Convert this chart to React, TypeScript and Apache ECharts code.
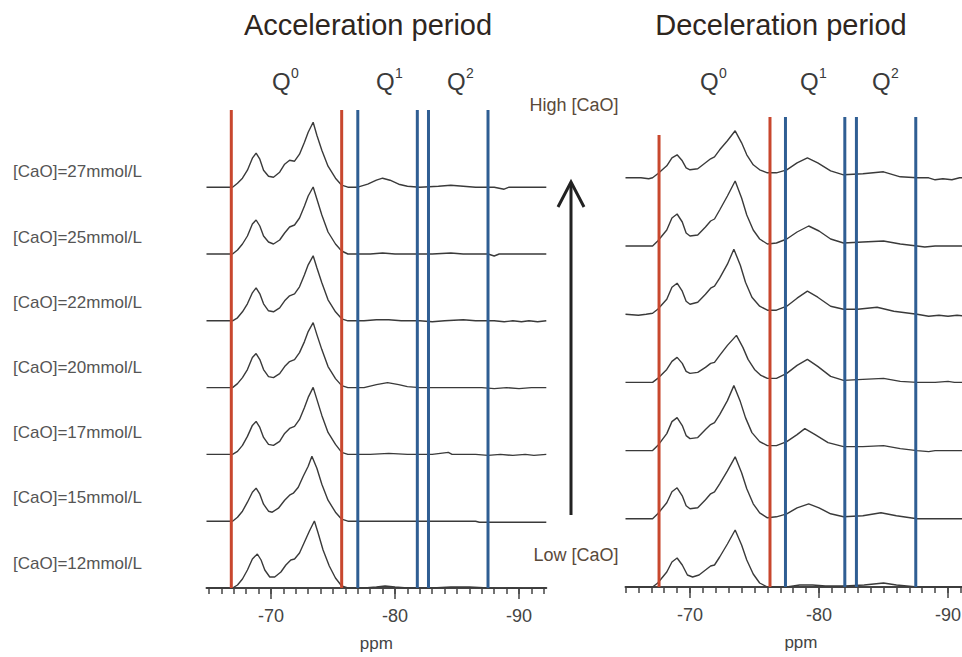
import React, { useEffect, useRef } from "react";
import * as echarts from "echarts";

// ---------- data (ppm, intensity above each trace's baseline) ----------
const CONCENTRATIONS = [12, 15, 17, 20, 22, 25, 27]; // bottom -> top

const ACC_12 = [[-64.8,0],[-66.0,0],[-66.9,0],[-67.3,3],[-67.7,9],[-68.1,18],[-68.5,29],[-68.9,34],[-69.2,28],[-69.5,18],[-69.9,11],[-70.3,11],[-70.8,16],[-71.2,23],[-71.6,28],[-71.9,29],[-72.3,35],[-72.7,46],[-73.1,57],[-73.5,67],[-73.8,55],[-74.2,38],[-74.7,22],[-75.2,10],[-75.7,2],[-76.2,0],[-77.5,0],[-78.5,1],[-79.2,2],[-80.0,1],[-81.0,0],[-83.0,0],[-84.5,1],[-86.0,1],[-87.5,0],[-88.5,-1],[-89.5,0],[-90.5,-1],[-92.2,0]];
const ACC_15 = [[-64.8,0],[-66.0,0],[-66.9,0],[-67.3,4],[-67.7,10],[-68.1,19],[-68.5,29],[-68.8,33],[-69.1,27],[-69.4,17],[-69.8,10],[-70.1,9],[-70.6,13],[-71.1,21],[-71.5,26],[-71.8,28],[-72.2,34],[-72.6,45],[-73.0,55],[-73.3,65],[-73.7,53],[-74.1,37],[-74.6,21],[-75.2,9],[-75.7,2],[-76.2,0],[-78.0,0],[-79.5,0],[-81.0,0],[-82.5,0],[-84.0,0],[-86.5,0],[-86.8,-1],[-92.2,-1]];
const ACC_17 = [[-64.8,0],[-66.0,0],[-66.9,0],[-67.3,3],[-67.7,9],[-68.1,18],[-68.5,29],[-68.8,33],[-69.1,27],[-69.4,17],[-69.8,10],[-70.2,9],[-70.7,13],[-71.1,21],[-71.5,26],[-71.9,28],[-72.3,35],[-72.7,47],[-73.0,57],[-73.4,67],[-73.7,55],[-74.1,39],[-74.6,22],[-75.2,10],[-75.7,2],[-76.2,0],[-78.0,0],[-79.5,1],[-81.0,0],[-83.0,0],[-84.3,2],[-84.6,0],[-86.5,0],[-87.5,-1],[-88.5,0],[-89.5,-1],[-90.5,0],[-91.2,-1],[-92.2,0]];
const ACC_20 = [[-64.8,0],[-66.0,0],[-66.9,0],[-67.3,4],[-67.7,10],[-68.1,18],[-68.5,30],[-68.8,34],[-69.1,28],[-69.4,18],[-69.8,11],[-70.2,10],[-70.7,14],[-71.1,21],[-71.5,26],[-71.9,28],[-72.3,35],[-72.7,46],[-73.0,56],[-73.4,65],[-73.7,53],[-74.1,38],[-74.6,21],[-75.2,9],[-75.7,2],[-76.2,0],[-77.5,0],[-78.5,3],[-79.4,5],[-80.3,3],[-81.0,1],[-82.0,0],[-84.0,0],[-85.5,0],[-87.0,0],[-88.0,-1],[-89.0,0],[-90.0,-1],[-91.0,0],[-92.2,0]];
const ACC_22 = [[-64.8,0],[-66.0,0],[-66.9,0],[-67.3,3],[-67.7,9],[-68.1,17],[-68.5,28],[-68.8,33],[-69.1,27],[-69.4,17],[-69.8,10],[-70.2,9],[-70.7,13],[-71.1,20],[-71.5,25],[-71.9,27],[-72.3,34],[-72.7,46],[-73.0,56],[-73.4,65],[-73.7,53],[-74.1,38],[-74.6,21],[-75.2,9],[-75.7,2],[-76.2,0],[-77.5,0],[-78.5,1],[-79.5,1],[-80.5,0],[-82.0,0],[-83.0,-1],[-84.0,0],[-85.5,1],[-86.5,0],[-88.0,0],[-88.8,-1],[-89.5,0],[-90.2,-1],[-90.8,0],[-91.5,-1],[-92.2,0]];
const ACC_25 = [[-64.8,0],[-66.0,0],[-66.9,0],[-67.3,4],[-67.7,10],[-68.1,18],[-68.5,30],[-68.8,34],[-69.1,28],[-69.4,18],[-69.8,12],[-70.2,10],[-70.7,14],[-71.1,21],[-71.5,27],[-71.9,29],[-72.3,36],[-72.7,48],[-73.0,58],[-73.4,67],[-73.7,55],[-74.1,39],[-74.6,22],[-75.2,10],[-75.7,3],[-76.2,0],[-78.0,0],[-79.0,1],[-80.0,0],[-83.0,0],[-84.5,1],[-85.5,0],[-87.5,0],[-88.0,-2],[-88.4,0],[-92.2,0]];
const ACC_27 = [[-64.8,0],[-66.0,0],[-66.9,0],[-67.3,4],[-67.7,9],[-68.1,17],[-68.5,29],[-68.8,34],[-69.1,28],[-69.4,17],[-69.8,11],[-70.2,10],[-70.7,15],[-71.1,23],[-71.5,27],[-71.9,26],[-72.3,33],[-72.7,45],[-73.0,55],[-73.4,65],[-73.7,52],[-74.1,37],[-74.6,21],[-75.2,9],[-75.7,2],[-76.2,0],[-77.0,0],[-77.8,3],[-78.5,7],[-79.0,9],[-79.6,7],[-80.3,3],[-81.0,1],[-82.0,0],[-83.5,1],[-84.5,2],[-85.5,1],[-86.5,0],[-88.0,0],[-88.8,-2],[-89.2,0],[-92.2,0]];

const DEC_12 = [[-65.0,0],[-66.5,0],[-67.1,0],[-67.5,4],[-68.2,15],[-68.6,25],[-69.0,29],[-69.4,22],[-69.8,12],[-70.2,10],[-70.7,12],[-71.2,17],[-71.6,21],[-71.9,22],[-72.3,30],[-72.9,43],[-73.5,57],[-74.0,42],[-74.4,27],[-74.9,13],[-75.4,4],[-76.0,0],[-77.5,0],[-78.5,2],[-79.5,2],[-80.5,1],[-82.0,1],[-83.5,2],[-85.0,4],[-86.0,2],[-87.6,0],[-92.2,0]];
const DEC_15 = [[-65.0,0],[-66.5,0],[-67.1,0],[-67.5,5],[-68.2,16],[-68.6,27],[-69.0,31],[-69.4,23],[-69.7,13],[-70.0,10],[-70.6,11],[-71.2,19],[-71.6,25],[-71.9,27],[-72.3,35],[-72.9,48],[-73.5,62],[-74.0,46],[-74.4,30],[-74.9,15],[-75.4,6],[-76.0,1],[-76.7,2],[-77.5,5],[-78.3,11],[-79.2,15],[-80.0,11],[-80.9,5],[-81.9,2],[-83.4,3],[-84.8,6],[-86.0,3],[-87.6,0],[-92.2,0]];
const DEC_17 = [[-65.0,0],[-66.5,0],[-67.1,0],[-67.5,5],[-68.2,17],[-68.6,29],[-69.0,33],[-69.4,25],[-69.7,15],[-70.0,12],[-70.6,13],[-71.2,21],[-71.6,26],[-71.9,28],[-72.3,36],[-72.9,50],[-73.4,65],[-73.9,49],[-74.3,33],[-74.8,18],[-75.4,9],[-76.0,5],[-76.7,5],[-77.5,9],[-78.3,16],[-78.9,22],[-79.7,16],[-80.7,8],[-81.9,4],[-83.4,4],[-85.0,5],[-86.3,2],[-87.6,0],[-88.5,-1],[-89.0,0],[-92.2,0]];
const DEC_20 = [[-65.0,0],[-66.5,0],[-67.1,0],[-67.5,4],[-68.2,13],[-68.6,21],[-69.0,25],[-69.4,19],[-69.7,11],[-70.0,9],[-70.6,10],[-71.2,15],[-71.6,19],[-71.9,20],[-72.3,27],[-72.9,37],[-73.6,47],[-74.1,35],[-74.5,23],[-75.0,13],[-75.5,7],[-76.0,4],[-76.7,4],[-77.5,9],[-78.3,17],[-79.1,23],[-79.9,16],[-80.9,6],[-81.9,2],[-83.4,3],[-85.0,4],[-86.3,1],[-87.6,0],[-89.0,0],[-90.0,1],[-90.5,0],[-92.2,0]];
const DEC_22 = [[-65.0,0],[-66.0,-1],[-66.6,0],[-67.1,1],[-67.5,5],[-68.2,15],[-68.6,27],[-69.0,31],[-69.4,23],[-69.7,13],[-70.0,10],[-70.6,12],[-71.2,20],[-71.6,26],[-71.9,28],[-72.3,36],[-72.9,50],[-73.4,65],[-73.9,49],[-74.3,32],[-74.8,17],[-75.4,8],[-76.0,4],[-76.7,4],[-77.5,8],[-78.3,16],[-79.1,23],[-79.9,17],[-80.9,8],[-81.9,5],[-83.0,5],[-84.5,7],[-85.8,3],[-87.0,1],[-87.6,0],[-88.5,-2],[-89.3,-1],[-90.0,-2],[-90.7,-1],[-91.5,-2],[-92.2,-1]];
const DEC_25 = [[-65.0,0],[-66.5,0],[-67.1,0],[-67.5,5],[-68.2,16],[-68.6,28],[-69.0,32],[-69.4,24],[-69.7,13],[-70.0,10],[-70.6,11],[-71.2,19],[-71.6,25],[-71.9,27],[-72.3,36],[-72.9,50],[-73.5,65],[-74.0,48],[-74.4,31],[-74.9,16],[-75.4,7],[-76.0,2],[-76.7,3],[-77.5,7],[-78.3,14],[-79.2,20],[-80.0,15],[-80.9,7],[-81.9,3],[-83.4,4],[-85.0,5],[-86.3,2],[-87.6,0],[-88.2,-1],[-89.0,0],[-92.2,0]];
const DEC_27 = [[-65.0,0],[-66.2,0],[-66.8,-1],[-67.1,0],[-67.5,4],[-68.2,12],[-68.6,20],[-69.0,23],[-69.4,17],[-69.7,10],[-70.0,8],[-70.6,9],[-71.2,15],[-71.6,19],[-71.9,21],[-72.3,28],[-72.9,37],[-73.5,47],[-74.0,35],[-74.4,23],[-74.9,13],[-75.4,8],[-76.0,5],[-76.7,5],[-77.5,8],[-78.3,15],[-79.1,20],[-79.9,15],[-80.9,7],[-81.9,3],[-83.4,4],[-85.0,6],[-86.3,1],[-87.6,0],[-88.5,0],[-89.0,-2],[-89.6,-1],[-90.3,-2],[-90.9,0],[-92.2,0]];

const ACC_TRACES = [ACC_12, ACC_15, ACC_17, ACC_20, ACC_22, ACC_25, ACC_27];
const DEC_TRACES = [DEC_12, DEC_15, DEC_17, DEC_20, DEC_22, DEC_25, DEC_27];

// reference lines (ppm)
const ACC_RED = [-66.8, -75.7];
const ACC_BLUE = [-77.0, -81.8, -82.7, -87.5];
const DEC_RED = [-67.6, -76.2];
const DEC_BLUE = [-77.4, -82.0, -82.9, -87.5];

// axis ticks
const TICK_LABELS = [-70, -80, -90];
const MINOR_TICKS = [-65,-66,-67,-68,-69,-70,-71,-72,-73,-74,-75,-76,-77,-78,-79,-80,-81,-82,-83,-84,-85,-86,-87,-88,-89,-90,-91,-92];

const Q_LABELS = ["0", "1", "2"];

const FONT = '"Liberation Sans", Arial, Helvetica, sans-serif';
const RED = "#c8472e";
const BLUE = "#2f5e93";
const TRACE_COLOR = "#3a3a3a";

export default function App() {
  const ref = useRef<HTMLDivElement>(null);

  useEffect(() => {
    document.body.style.margin = "0";
    if (!ref.current) return;
    const chart = echarts.init(ref.current, null, { renderer: "svg" });

    const panels = [
      { traces: ACC_TRACES, red: ACC_RED, blue: ACC_BLUE, gap: 66.8, xi: 0, yi: 0, lineTopRed: [478, 478], lineTopBlue: 478 },
      { traces: DEC_TRACES, red: DEC_RED, blue: DEC_BLUE, gap: 68.2, xi: 2, yi: 1, lineTopRed: [452, 470], lineTopBlue: 470 },
    ];

    const series: any[] = [];
    panels.forEach((p) => {
      p.traces.forEach((tr, i) => {
        series.push({
          type: "line",
          name: `[CaO]=${CONCENTRATIONS[i]}mmol/L`,
          xAxisIndex: p.xi,
          yAxisIndex: p.yi,
          data: tr.map(([x, h]) => [x, h + i * p.gap]),
          symbol: "none",
          lineStyle: { color: TRACE_COLOR, width: 1.4 },
          silent: true,
          z: 2,
        });
      });
      p.red.forEach((v, k) => {
        series.push({
          type: "line",
          xAxisIndex: p.xi,
          yAxisIndex: p.yi,
          data: [[v, 0], [v, p.lineTopRed[k]]],
          symbol: "none",
          lineStyle: { color: RED, width: 3 },
          silent: true,
          z: 3,
        });
      });
      p.blue.forEach((v) => {
        series.push({
          type: "line",
          xAxisIndex: p.xi,
          yAxisIndex: p.yi,
          data: [[v, 0], [v, p.lineTopBlue]],
          symbol: "none",
          lineStyle: { color: BLUE, width: 3 },
          silent: true,
          z: 3,
        });
      });
    });

    const mainAxis = (gridIndex: number, min: number, max: number) => ({
      type: "value",
      gridIndex,
      position: "bottom",
      min,
      max,
      inverse: true,
      axisLine: { show: true, lineStyle: { color: "#444", width: 2 } },
      axisTick: { show: true, customValues: MINOR_TICKS, length: 6, lineStyle: { color: "#444", width: 1.5 } },
      axisLabel: { customValues: TICK_LABELS, margin: 19, fontSize: 18, color: "#444", fontFamily: FONT },
      splitLine: { show: false },
      name: "ppm",
      nameLocation: "middle",
      nameGap: 47,
      nameTextStyle: { fontSize: 17, color: "#444", fontFamily: FONT },
    });
    const majorAxis = (gridIndex: number, min: number, max: number) => ({
      type: "value",
      gridIndex,
      position: "bottom",
      offset: 0,
      min,
      max,
      inverse: true,
      axisLine: { show: false },
      axisTick: { show: true, customValues: TICK_LABELS, length: 11, lineStyle: { color: "#444", width: 1.5 } },
      axisLabel: { show: false },
      splitLine: { show: false },
    });

    const graphic: any[] = [];
    const txt = (text: string, x: number, y: number, size: number, fill: string, align = "left") => ({
      type: "text",
      x,
      y,
      silent: true,
      style: { text, fontSize: size, fontFamily: FONT, fill, align, verticalAlign: "middle" },
    });

    graphic.push(txt("Acceleration period", 368, 25, 29, "#2e261e", "center"));
    graphic.push(txt("Deceleration period", 781, 25, 29, "#2e261e", "center"));

    const qLeft = [[272, 376, 447], [700, 800, 872]];
    qLeft.forEach((xs) => {
      xs.forEach((x, k) => {
        graphic.push(txt("Q", x, 81, 24, "#3a3a3a"));
        graphic.push(txt(Q_LABELS[k], x + 19, 73, 14, "#3a3a3a"));
      });
    });

    CONCENTRATIONS.forEach((c, i) => {
      graphic.push(txt(`[CaO]=${c}mmol/L`, 13, 563 - i * 65.2, 17, "#555"));
    });

    graphic.push(txt("High [CaO]", 574, 105, 18, "#5a4a3a", "center"));
    graphic.push(txt("Low [CaO]", 576, 555, 18, "#5a4a3a", "center"));
    graphic.push({
      type: "line",
      silent: true,
      shape: { x1: 571, y1: 183, x2: 571, y2: 515 },
      style: { stroke: "#222", lineWidth: 3 },
    });
    graphic.push({
      type: "polyline",
      silent: true,
      shape: { points: [[558, 207], [571, 182], [584, 207]] },
      style: { stroke: "#222", lineWidth: 3, fill: "none" },
    });

    chart.setOption({
      animation: false,
      backgroundColor: "#fff",
      grid: [
        { left: 206.5, top: 100, width: 339.8, height: 488, outerBoundsMode: "none", containLabel: false },
        { left: 625.5, top: 100, width: 350.9, height: 487, outerBoundsMode: "none", containLabel: false },
      ],
      xAxis: [
        mainAxis(0, -92.2, -64.8),
        majorAxis(0, -92.2, -64.8),
        mainAxis(1, -92.2, -65.0),
        majorAxis(1, -92.2, -65.0),
      ],
      yAxis: [
        { type: "value", gridIndex: 0, min: 0, max: 488, show: false },
        { type: "value", gridIndex: 1, min: 0, max: 487, show: false },
      ],
      series,
      graphic,
    });

    return () => chart.dispose();
  }, []);

  return <div ref={ref} style={{ width: 962, height: 657 }} />;
}
